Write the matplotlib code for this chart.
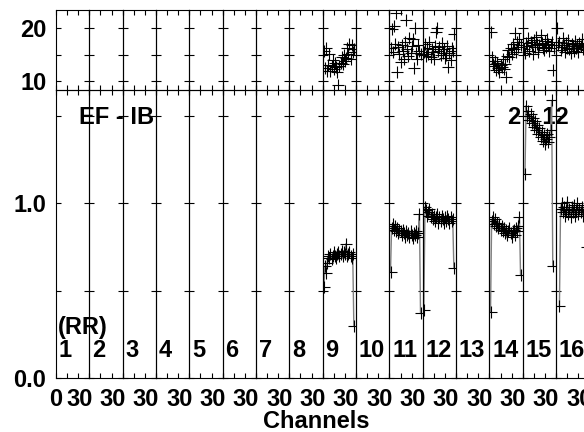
import numpy as np
import matplotlib
matplotlib.use('Agg')
import matplotlib.pyplot as plt
from matplotlib.transforms import ScaledTranslation

plt.rcParams['font.family'] = ['Liberation Sans', 'DejaVu Sans']
plt.rcParams['font.weight'] = 'bold'
plt.rcParams['font.size'] = 17

# 16 channel groups, 30 channels each
n_seg = 16
seg_names = [str(i) for i in range(1, n_seg + 1)]

# lower panel (EF - IB ratio): first channel and values per group
bot_start = {9: 1, 11: 1, 12: 1, 14: 1, 15: 2, 16: 3}
bot_seg9 = [0.52, 0.64, 0.60, 0.66, 0.70, 0.69, 0.71, 0.68, 0.70, 0.72, 0.70, 0.69, 0.71, 0.72,
            0.70, 0.71, 0.73, 0.70, 0.72, 0.71, 0.77, 0.70, 0.71, 0.72, 0.70, 0.69, 0.71, 0.30]
bot_seg11 = [0.61, 0.86, 0.88, 0.85, 0.87, 0.84, 0.86, 0.83, 0.85, 0.84, 0.82, 0.85, 0.83, 0.81,
             0.84, 0.82, 0.83, 0.81, 0.84, 0.82, 0.80, 0.83, 0.82, 0.84, 0.81, 0.83, 0.94, 0.37]
bot_seg12 = [0.39, 0.98, 0.96, 0.93, 0.95, 0.97, 0.92, 0.94, 0.91, 0.93, 0.90, 0.92, 0.94, 0.89,
             0.92, 0.90, 0.93, 0.91, 0.89, 0.92, 0.90, 0.93, 0.91, 0.89, 0.92, 0.90, 0.91, 0.63]
bot_seg14 = [0.38, 0.90, 0.92, 0.88, 0.91, 0.87, 0.89, 0.86, 0.88, 0.85, 0.87, 0.84, 0.86, 0.83,
             0.85, 0.82, 0.84, 0.86, 0.83, 0.81, 0.84, 0.85, 0.82, 0.86, 0.84, 0.87, 0.92, 0.59]
bot_seg15 = [1.17, 1.56, 1.50, 1.53, 1.48, 1.51, 1.46, 1.49, 1.44, 1.47, 1.42, 1.45, 1.40,
             1.43, 1.38, 1.41, 1.36, 1.39, 1.34, 1.37, 1.40, 1.35, 1.38, 1.42, 1.59, 0.64]
bot_seg16 = [0.41, 0.97, 1.00, 0.95, 0.98, 0.93, 0.96, 1.01, 0.94, 0.97, 0.92, 0.98, 0.95,
             0.99, 0.93, 0.96, 1.00, 0.94, 0.97, 0.95, 0.98, 0.93, 0.96, 0.99, 0.97, 0.75]
bot_values = {9: bot_seg9, 11: bot_seg11, 12: bot_seg12, 14: bot_seg14, 15: bot_seg15, 16: bot_seg16}

# upper panel: values per group, channels 1..28
top_seg9 = [15.8, 12.5, 16.2, 12.0, 13.1, 15.2, 11.9, 12.8, 14.0, 12.3, 13.5, 12.6, 11.8, 9.2,
            12.9, 13.4, 14.6, 13.2, 15.0, 13.8, 14.4, 16.3, 15.1, 17.0, 14.2, 16.8, 15.5, 16.0]
top_seg11 = [16.2, 19.8, 15.5, 20.4, 17.0, 22.9, 11.8, 16.4, 15.1, 13.6, 16.8, 15.7, 14.2, 17.5,
             21.6, 16.0, 14.8, 18.2, 15.3, 16.6, 17.9, 12.4, 20.0, 15.4, 14.1, 16.9, 15.8, 15.2]
top_seg12 = [15.6, 17.1, 14.8, 16.3, 15.2, 17.4, 14.6, 16.0, 15.5, 14.2, 16.7, 19.4, 20.1, 15.8,
             16.5, 14.9, 17.2, 15.4, 16.1, 14.3, 15.0, 16.6, 12.7, 15.3, 14.0, 16.2, 15.7, 18.9]
top_seg14 = [19.4, 14.6, 13.2, 12.8, 13.9, 12.1, 13.5, 12.4, 11.8, 13.0, 12.6, 14.1, 12.2, 13.3,
             10.8, 14.8, 15.9, 14.5, 16.3, 15.2, 17.0, 16.1, 19.1, 15.6, 17.4, 16.5, 18.0, 16.8]
top_seg15 = [16.1, 15.4, 17.2, 16.6, 18.2, 15.8, 17.5, 16.9, 15.2, 17.8, 16.4, 18.4, 17.0, 15.6,
             16.8, 18.7, 17.3, 16.2, 15.9, 17.6, 16.5, 18.0, 17.1, 15.7, 16.9, 17.4, 12.1, 16.3]
top_seg16 = [20.0, 16.8, 17.5, 15.9, 16.4, 18.1, 16.9, 15.6, 17.2, 16.3, 17.8, 16.0, 15.4, 17.0,
             16.7, 15.8, 17.6, 16.2, 16.9, 15.5, 17.3, 16.6, 18.0, 16.1, 17.1, 16.4, 15.9, 16.8]
top_values = {9: top_seg9, 11: top_seg11, 12: top_seg12, 14: top_seg14, 15: top_seg15, 16: top_seg16}

W, H = 584, 432
left_px, seg_px = 56, 33.34

fig = plt.figure(figsize=(W / 100, H / 100), dpi=100)

for k in range(n_seg):
    seg = k + 1
    x0 = (left_px + k * seg_px) / W
    ax_t = fig.add_axes([x0, 1 - 90 / H, seg_px / W, 80 / H])
    ax_b = fig.add_axes([x0, 1 - 378 / H, seg_px / W, 288 / H])
    for ax in (ax_t, ax_b):
        ax.set_facecolor('none')
        ax.set_xlim(0, 30)
        ax.set_xticks([0, 10, 20, 30])
        ax.tick_params(direction='in', length=3.6, width=0.8, top=True, right=True,
                       labelsize=17, pad=7.5)
        ax.tick_params(axis='y', pad=7)
        for sp in ax.spines.values():
            sp.set_linewidth(0.8)
    ax_t.set_ylim(8.3, 23.5)
    ax_t.set_yticks([10, 15, 20])
    ax_b.set_ylim(0, 1.65)
    ax_b.set_yticks([0, 0.5, 1.0, 1.5])
    ax_t.set_xticklabels([])
    if k == 0:
        ax_t.set_yticklabels(['10', '', '20'])
        ax_b.set_yticklabels(['0.0', '', '1.0', ''])
        ax_b.set_xticklabels(['0', '', '', '30'])
    else:
        ax_t.set_yticklabels([])
        ax_b.set_yticklabels([])
        ax_b.set_xticklabels(['', '', '', '30'])
    for lbl in ax_b.get_xticklabels():
        if lbl.get_text() == '30':
            lbl.set_ha('right')
            lbl.set_transform(lbl.get_transform() + ScaledTranslation(0.03, 0, fig.dpi_scale_trans))

    if seg in top_values:
        vals = top_values[seg]
        ch = np.arange(1, len(vals) + 1)
        ax_t.plot(ch, vals, linestyle='none', marker='+', ms=9, mew=0.8, color='black')
    if seg in bot_values:
        vals = bot_values[seg]
        ch = np.arange(bot_start[seg], bot_start[seg] + len(vals))
        ax_b.plot(ch, vals, color='#808080', lw=1.0)
        ax_b.plot(ch, vals, linestyle='none', marker='+', ms=9, mew=0.8, color='black')

    ax_b.text(2.5, 0.12, seg_names[k], va='baseline', ha='left', fontsize=17, clip_on=False)
    if k == 0:
        ax_b.text(1.8, 0.25, '(RR)', va='baseline', ha='left', fontsize=17, clip_on=False)
        ax_b.text(21, 1.457, 'EF - IB', va='baseline', ha='left', fontsize=17, clip_on=False)
    if seg == 14:
        ax_b.text(16.3, 1.457, '2 - 12', va='baseline', ha='left', fontsize=17, clip_on=False)

fig.text(316 / W, 4 / H, 'Channels', ha='center', va='baseline', fontsize=17)

fig.savefig('out.png', dpi=100)
